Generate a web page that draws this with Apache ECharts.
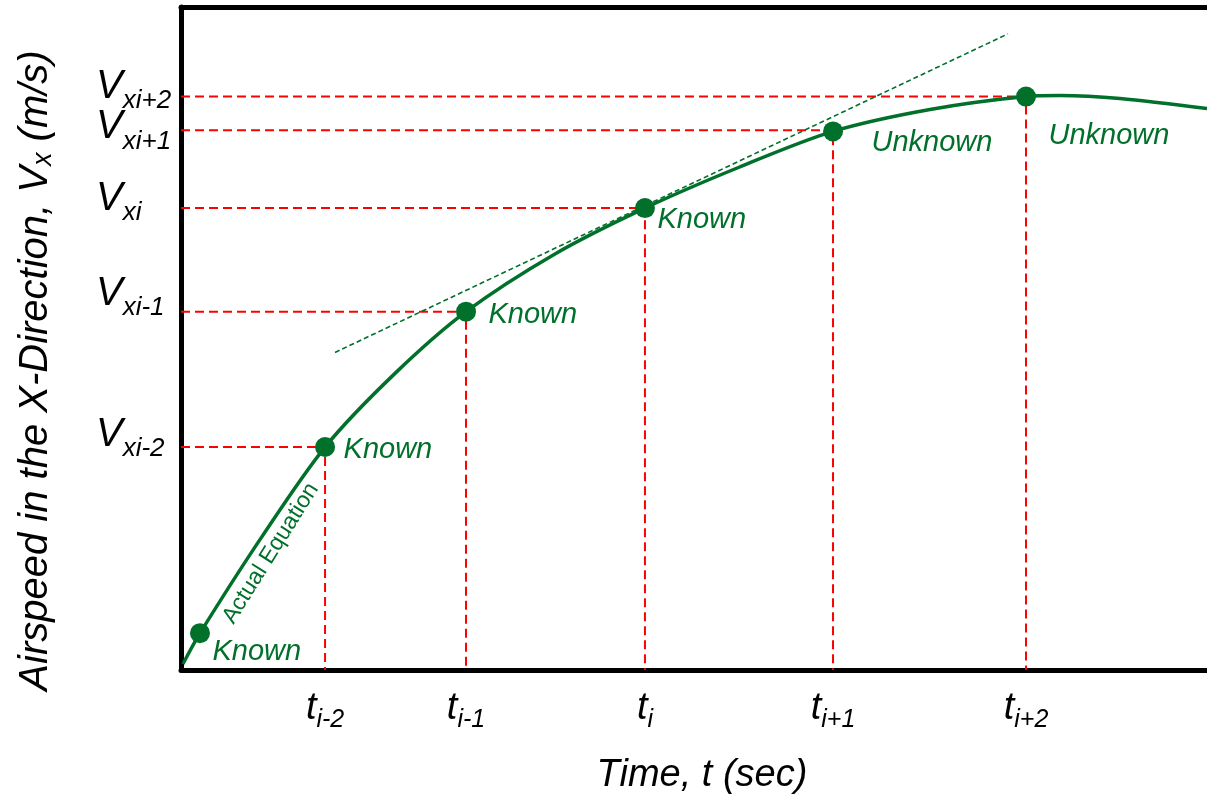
<!DOCTYPE html>
<html><head><meta charset="utf-8">
<script src="https://cdn.jsdelivr.net/npm/echarts@6/dist/echarts.min.js"></script>
<style>html,body{margin:0;padding:0;background:#fff}#c{width:1207px;height:799px}</style>
</head><body><div id="c"></div>
<script>
// ---- data (arbitrary time / airspeed units) ----
const tickTimes   = [14.04, 27.78, 45.22, 63.55, 82.36];
const tickSubs    = ['i-2', 'i-1', 'i', 'i+1', 'i+2'];
const vLevels     = [33.63, 54.05, 69.67, 81.40, 86.49];
const vSubs       = ['xi-2', 'xi-1', 'xi', 'xi+1', 'xi+2'];
const pointTimes  = [1.85, 14.04, 27.78, 45.22, 63.55, 82.36];
const pointValues = [5.56, 33.63, 54.05, 69.67, 81.23, 86.49];
const pointStatus = ['Known', 'Known', 'Known', 'Known', 'Unknown', 'Unknown'];
const curveTimes  = [0.19, 1.85, 7.89, 14.04, 20.86, 27.78, 36.45, 45.22, 54.39, 63.55, 73.00, 82.36, 85.67, 91.52, 100.0];
const curveValues = [0.90, 5.56, 20.12, 33.63, 44.74, 54.05, 62.76, 69.67, 75.83, 81.23, 84.53, 86.49, 86.64, 86.19, 84.68];
const tangentTimes  = [15.01, 80.60];
const tangentValues = [47.90, 95.95];
const curveName = 'Actual Equation';
const xTitle = 'Time, t (sec)';
const yTitle = '{a|Airspeed in the X-Direction, V}{b|x}{a| (m/s)}';

// ---- styling / placement ----
const GREEN = '#00702A';
const RED = '#FF0000';
const FONT = '"Liberation Sans", Arial, sans-serif';
const labelDistance = [2.5, 8.5, 12.5, 2.5, 28.5, 12.5];
const labelShift = [[0, 19], [0, 3], [0, 3], [0, 12], [0, 11], [0, 39]];
const equationLabelAt = [8.75, 17.6];
const vBaselineDrop = [1, -5, 4, 10, 3];   // px of the "V" baseline below its level line

const guideData = tickTimes.map((t, i) => ({
  coords: [[0, vLevels[i]], [t, vLevels[i]], [t, 0]]
}));

function nearestIndex(arr, v) {
  let k = 0, best = Infinity;
  arr.forEach((t, i) => { const d = Math.abs(t - v); if (d < best) { best = d; k = i; } });
  return k;
}

const vRich = {};
vBaselineDrop.forEach((d, i) => {
  vRich['v' + i] = {fontSize: 40, fontStyle: 'italic', fontFamily: FONT, color: '#000', lineHeight: 26,
    padding: [0, 0, Math.max(0, 2 * (13 - d)), 0]};
  const sd = d + 1;
  vRich['s' + i] = {fontSize: 26, fontStyle: 'italic', fontFamily: FONT, color: '#000', lineHeight: 26,
    padding: [Math.max(0, 2 * sd), 0, Math.max(0, -2 * sd), 0]};
});
// labels split over two overlaid axes so neighbouring labels are never dropped
function vAxis(subset, extra) {
  return Object.assign({
    type: 'value', min: 0, max: 100, position: 'left',
    axisTick: {show: false}, splitLine: {show: false},
    axisLabel: {
      customValues: subset, margin: 85, align: 'left', hideOverlap: false,
      showMinLabel: true, showMaxLabel: true,
      formatter: v => { const k = nearestIndex(vLevels, v); return '{v' + k + '|V}{s' + k + '|' + vSubs[k] + '}'; },
      rich: vRich
    }
  }, extra);
}

const chart = echarts.init(document.getElementById('c'), null, {renderer: 'canvas'});
chart.setOption({
  animation: false,
  backgroundColor: '#fff',
  grid: {left: 181, right: 0, top: 7, bottom: 126, containLabel: false},
  xAxis: [{
    type: 'value', min: 0, max: 100, position: 'bottom',
    axisLine: {show: true, onZero: false, lineStyle: {color: '#000', width: 5}},
    axisTick: {show: false}, splitLine: {show: false},
    axisLabel: {
      customValues: tickTimes, margin: 18, hideOverlap: false,
      formatter: v => '{t|t}{s|' + tickSubs[nearestIndex(tickTimes, v)] + '}',
      rich: {
        t: {fontSize: 38, fontStyle: 'italic', fontFamily: FONT, color: '#000', lineHeight: 40},
        s: {fontSize: 25, fontStyle: 'italic', fontFamily: FONT, color: '#000', lineHeight: 40, padding: [24, 0, 0, 0]}
      }
    },
    name: xTitle, nameLocation: 'middle', nameGap: 86,
    nameTextStyle: {fontSize: 38, fontStyle: 'italic', fontFamily: FONT, color: '#000', padding: [0, 0, 0, 16]}
  }, {
    type: 'value', min: 0, max: 100, position: 'top',
    axisLine: {show: true, onZero: false, lineStyle: {color: '#000', width: 5}},
    axisTick: {show: false}, splitLine: {show: false}, axisLabel: {show: false}
  }],
  yAxis: [
    vAxis(vLevels.filter((_, i) => i % 2 === 0), {
      axisLine: {show: true, onZero: false, lineStyle: {color: '#000', width: 5}},
      name: yTitle, nameLocation: 'middle', nameGap: 124, nameRotate: 90,
      nameTextStyle: {
        padding: [0, 64, 0, 0],
        rich: {
          a: {fontSize: 40, fontStyle: 'italic', fontFamily: FONT, color: '#000', lineHeight: 42},
          b: {fontSize: 27, fontStyle: 'italic', fontFamily: FONT, color: '#000', lineHeight: 42, padding: [14, 0, 0, 0]}
        }
      }
    }),
    vAxis(vLevels.filter((_, i) => i % 2 === 1), {
      axisLine: {show: false, onZero: false}, offset: 0
    })
  ],
  series: [
    {
      type: 'lines', coordinateSystem: 'cartesian2d', polyline: true, silent: true, z: 1,
      lineStyle: {color: RED, width: 2, type: [9, 5], opacity: 1},
      data: guideData
    },
    {
      type: 'line', name: 'tangent', showSymbol: false, silent: true, z: 2,
      lineStyle: {color: GREEN, width: 1.6, type: [5, 3]},
      data: tangentTimes.map((t, i) => [t, tangentValues[i]])
    },
    {
      type: 'line', name: curveName, smooth: 0.3, showSymbol: false, silent: true, z: 3,
      lineStyle: {color: GREEN, width: 3.5},
      data: curveTimes.map((t, i) => [t, curveValues[i]])
    },
    {
      type: 'scatter', symbol: 'circle', symbolSize: 20, z: 4, silent: true,
      itemStyle: {color: GREEN, opacity: 1},
      data: pointTimes.map((t, i) => ({
        value: [t, pointValues[i]],
        label: {
          show: true, position: 'right', distance: labelDistance[i], offset: labelShift[i],
          formatter: pointStatus[i], fontSize: 29, fontStyle: 'italic', fontFamily: FONT, color: GREEN
        }
      }))
    },
    {
      type: 'scatter', symbolSize: 0, z: 4, silent: true,
      itemStyle: {opacity: 1},
      data: [{
        value: equationLabelAt,
        label: {show: true, position: 'inside', rotate: 58, formatter: curveName,
          fontSize: 23, fontFamily: FONT, color: GREEN}
      }]
    }
  ]
});
</script></body></html>
